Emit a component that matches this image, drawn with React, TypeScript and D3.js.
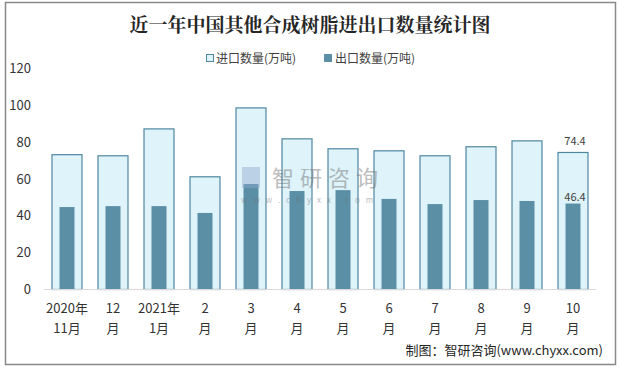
import React, { useEffect, useRef } from 'react';
import * as d3 from 'd3';

const months = ['2020年|11月', '12|月', '2021年|1月', '2|月', '3|月', '4|月', '5|月', '6|月', '7|月', '8|月', '9|月', '10|月'];
const importQty = [73.2, 72.6, 87.2, 61.2, 98.6, 81.8, 76.4, 75.3, 72.6, 77.5, 80.7, 74.4];
const exportQty = [44.5, 45.0, 45.0, 41.3, 57.0, 53.2, 53.7, 48.9, 46.1, 48.3, 47.8, 46.4];
const yTicks = [0, 20, 40, 60, 80, 100, 120];

const FONT = '"Microsoft YaHei", "Noto Sans CJK SC", "Noto Sans", sans-serif';

function Chart() {
    const svgRef = useRef<SVGSVGElement>(null);

    useEffect(() => {
        const svg = d3.select(svgRef.current);
        svg.selectAll('*').remove();

        // outer frame
        svg.append('rect')
            .attr('x', 5.5).attr('y', 2.5)
            .attr('width', 610).attr('height', 362)
            .attr('fill', '#fff')
            .attr('stroke', '#898989')
            .attr('stroke-width', 1.5);

        svg.append('text')
            .attr('x', 310).attr('y', 32)
            .attr('text-anchor', 'middle')
            .style('font-family', '"Noto Serif CJK SC", "Noto Sans CJK SC", serif')
            .style('font-weight', 'bold')
            .style('font-size', '19px')
            .attr('fill', '#262626')
            .text('近一年中国其他合成树脂进出口数量统计图');

        const x = d3.scaleBand<number>()
            .domain(d3.range(months.length))
            .range([44, 596]);

        const y = d3.scaleLinear().domain([0, 120]).range([289, 68]);

        // y tick labels
        svg.append('g').selectAll('text')
            .data(yTicks)
            .join('text')
            .attr('x', 31)
            .attr('y', (d) => y(d) + 5)
            .attr('text-anchor', 'end')
            .style('font-family', FONT)
            .style('font-size', '13px')
            .attr('fill', '#333')
            .text((d) => d);

        const importW = 31;
        const exportW = 15;

        svg.append('g').selectAll('rect')
            .data(importQty)
            .join('rect')
            .attr('x', (_, i) => x(i)! + x.bandwidth() / 2 - importW / 2 + 0.5)
            .attr('y', (d) => y(d) + 0.5)
            .attr('width', importW - 1)
            .attr('height', (d) => y(0) - y(d))
            .attr('fill', '#dff3fa')
            .attr('stroke', '#4f87a1')
            .attr('stroke-width', 1.2);

        svg.append('g').selectAll('rect')
            .data(exportQty)
            .join('rect')
            .attr('x', (_, i) => x(i)! + x.bandwidth() / 2 - exportW / 2)
            .attr('y', (d) => y(d))
            .attr('width', exportW)
            .attr('height', (d) => y(0) - y(d))
            .attr('fill', '#5b8fa6');

        // x axis line
        svg.append('line')
            .attr('x1', 44).attr('x2', 596)
            .attr('y1', y(0) + 0.5).attr('y2', y(0) + 0.5)
            .attr('stroke', '#d9d9d9')
            .attr('stroke-width', 1);

        // watermark (on top of bars, semi-transparent)
        const wm = svg.append('g').attr('opacity', 0.45);
        wm.append('rect').attr('x', 242).attr('y', 167).attr('width', 18).attr('height', 21).attr('fill', '#8fa8cf');
        wm.append('text')
            .attr('x', 272).attr('y', 186)
            .style('font-family', FONT).style('font-size', '22px')
            .attr('fill', '#6e6e6e')
            .attr('letter-spacing', 6)
            .text('智研咨询');
        wm.append('text')
            .attr('x', 241).attr('y', 203)
            .style('font-family', FONT).style('font-size', '8px')
            .attr('fill', '#6e6e6e')
            .attr('letter-spacing', 6)
            .text('www.chyxx.com');

        // x labels
        const xl = svg.append('g').selectAll('text')
            .data(months)
            .join('text')
            .attr('text-anchor', 'middle')
            .style('font-family', FONT)
            .style('font-size', '13px')
            .attr('fill', '#333');
        xl.each(function (d, i) {
            const parts = d.split('|');
            const t = d3.select(this);
            parts.forEach((p, k) => {
                t.append('tspan')
                    .attr('x', x(i)! + x.bandwidth() / 2)
                    .attr('y', 313 + k * 20)
                    .text(p);
            });
        });

        // data labels for the last month
        const last = months.length - 1;
        const cx = x(last)! + x.bandwidth() / 2;
        svg.append('text')
            .attr('x', cx + 2).attr('y', y(importQty[last]) - 7)
            .attr('text-anchor', 'middle')
            .style('font-family', FONT).style('font-size', '11px')
            .attr('fill', '#404040')
            .text(importQty[last]);
        svg.append('text')
            .attr('x', cx + 2).attr('y', y(exportQty[last]) - 3)
            .attr('text-anchor', 'middle')
            .style('font-family', FONT).style('font-size', '11px')
            .attr('fill', '#404040')
            .text(exportQty[last]);

        // legend
        const lg = svg.append('g').style('font-family', FONT).style('font-size', '12px');
        lg.append('rect').attr('x', 206.5).attr('y', 54.5).attr('width', 7).attr('height', 7)
            .attr('fill', '#dff3fa').attr('stroke', '#4f87a1');
        lg.append('text').attr('x', 216).attr('y', 63).attr('fill', '#404040').text('进口数量(万吨)');
        lg.append('rect').attr('x', 324).attr('y', 54).attr('width', 8).attr('height', 8)
            .attr('fill', '#5b8fa6');
        lg.append('text').attr('x', 335).attr('y', 63).attr('fill', '#404040').text('出口数量(万吨)');

        // source
        svg.append('text')
            .attr('x', 603).attr('y', 355)
            .attr('text-anchor', 'end')
            .style('font-family', FONT).style('font-size', '13px')
            .attr('fill', '#262626')
            .text('制图：智研咨询(www.chyxx.com)');
    }, []);

    return <svg ref={svgRef} width={620} height={369} style={{ display: 'block' }} />;
}

export default function App() {
    return (
        <div style={{ position: 'absolute', left: 0, top: 0 }}>
            <Chart />
        </div>
    );
}
